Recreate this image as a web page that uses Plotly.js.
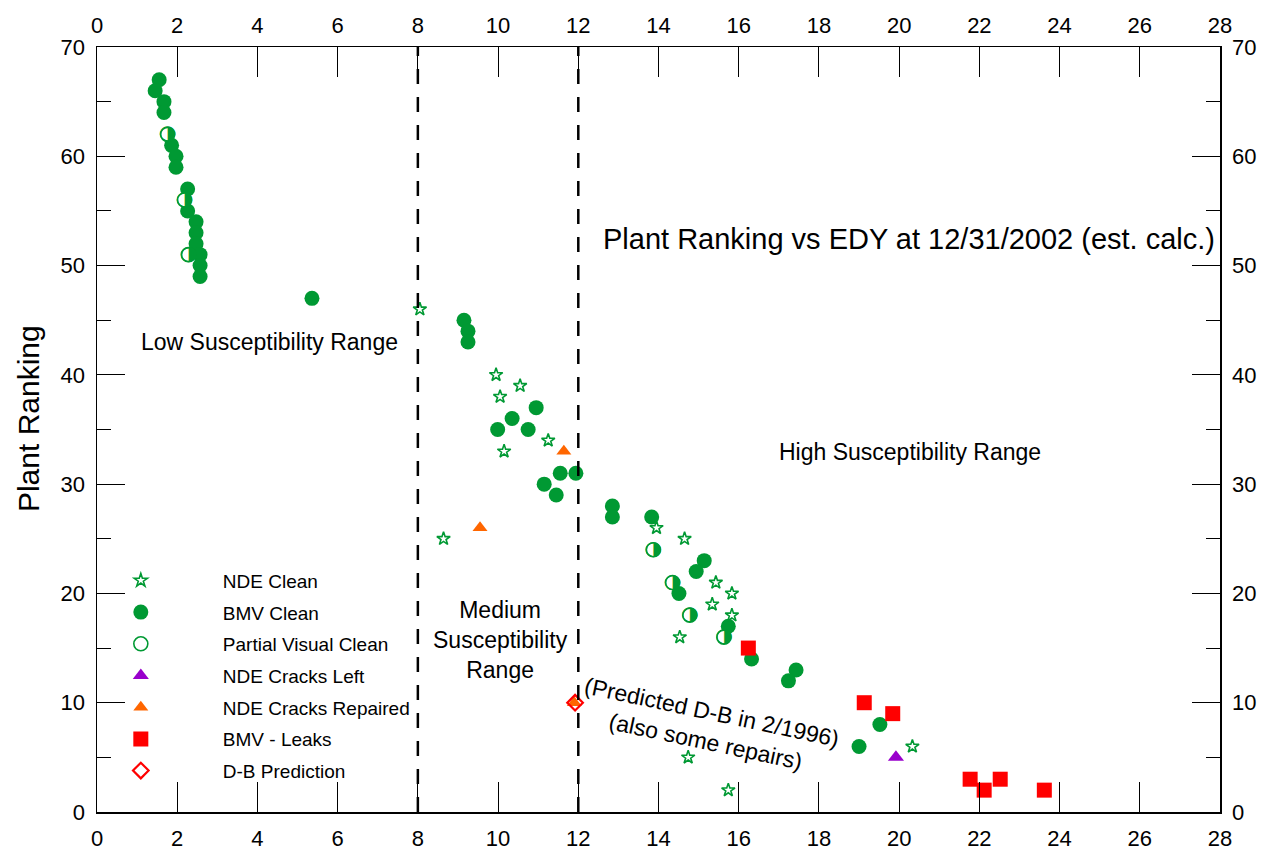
<!DOCTYPE html>
<html>
<head>
<meta charset="utf-8">
<script src="https://cdn.plot.ly/plotly-3.0.1.min.js"></script>
<style>
html,body{margin:0;padding:0;background:#fff;}
#chart{width:1270px;height:853px;}
</style>
</head>
<body>
<div id="chart"></div>
<script>
// ---- data (EDY, plant ranking) ----
const ndeCleanX = [8.05, 9.95, 10.55, 10.05, 11.25, 10.15, 8.64, 13.95, 14.65, 15.43, 15.83, 15.34, 15.83, 14.53, 20.33, 14.74, 15.74];
const ndeCleanY = [46, 40, 39, 38, 34, 33, 25, 26, 25, 21, 20, 19, 18, 16, 6, 5, 2];

const bmvCleanX = [1.55, 1.45, 1.67, 1.67, 1.86, 1.97, 1.97, 2.26, 2.26, 2.47, 2.47, 2.47, 2.57, 2.57, 2.57, 5.36, 9.15, 9.25, 9.25, 10.95, 10.35, 9.99, 10.75, 11.55, 11.94, 11.15, 11.45, 12.85, 12.85, 13.83, 15.14, 14.94, 14.51, 15.74, 16.32, 17.43, 17.24, 19.52, 19.0];
const bmvCleanY = [67, 66, 65, 64, 61, 60, 59, 57, 55, 54, 53, 52, 51, 50, 49, 47, 45, 44, 43, 37, 36, 35, 35, 31, 31, 30, 29, 28, 27, 27, 23, 22, 20, 17, 14, 13, 12, 8, 6];

const partialX = [1.76, 2.18, 2.28, 13.87, 14.35, 14.78, 15.63];
const partialY = [62, 56, 51, 24, 21, 18, 16];

const crackLeftX = [19.92];
const crackLeftY = [5];

const crackRepX = [11.64, 9.55, 11.9];
const crackRepY = [33, 26, 10];

const leakX = [16.24, 19.13, 19.84, 21.77, 22.12, 22.52, 23.62];
const leakY = [15, 10, 9, 3, 2, 3, 2];

const dbX = [11.92];
const dbY = [10];

const rangeBounds = [8, 12];
const xTickVals = [0, 2, 4, 6, 8, 10, 12, 14, 16, 18, 20, 22, 24, 26, 28];
const yTickVals = [0, 10, 20, 30, 40, 50, 60, 70];

const GREEN = '#009933';
const FONT = 'Liberation Sans, Arial, Helvetica, sans-serif';

const traces = [
  {name: 'BMV Clean', x: bmvCleanX, y: bmvCleanY, type: 'scatter', mode: 'markers',
   legendgroup: 'g2', legendrank: 2,
   marker: {symbol: 'circle', size: 15, color: GREEN, line: {width: 0}}},
  {name: 'Partial Visual Clean', x: partialX, y: partialY, type: 'scatter', mode: 'markers',
   legendgroup: 'g3', legendrank: 3,
   marker: {symbol: 'circle', size: 14, color: '#ffffff', line: {width: 1.6, color: GREEN}}},
  {name: 'Partial Visual Clean', x: partialX, y: partialY, type: 'scatter', mode: 'text',
   text: partialX.map(() => '\u25D1'), textposition: 'middle center', showlegend: false,
   legendgroup: 'g3', hoverinfo: 'skip',
   textfont: {family: 'DejaVu Sans', size: 20, color: GREEN}},
  {name: 'NDE Clean', x: ndeCleanX, y: ndeCleanY, type: 'scatter', mode: 'markers',
   legendgroup: 'g1', legendrank: 1,
   marker: {symbol: 'star', size: 10, color: '#ffffff', line: {width: 1.6, color: GREEN}}},
  {name: 'NDE Cracks Left', x: crackLeftX, y: crackLeftY, type: 'scatter', mode: 'markers',
   legendgroup: 'g4', legendrank: 4,
   marker: {symbol: 'triangle-up', size: 14, color: '#9900CC', line: {width: 0}}},
  {name: 'NDE Cracks Repaired', x: crackRepX, y: crackRepY, type: 'scatter', mode: 'markers',
   legendgroup: 'g5', legendrank: 5,
   marker: {symbol: 'triangle-up', size: 13, color: '#FF6600', line: {width: 0}}},
  {name: 'BMV - Leaks', x: leakX, y: leakY, type: 'scatter', mode: 'markers',
   legendgroup: 'g6', legendrank: 6,
   marker: {symbol: 'square', size: 15, color: '#FF0000', line: {width: 0}}},
  {name: 'D-B Prediction', x: dbX, y: dbY, type: 'scatter', mode: 'markers',
   legendgroup: 'g7', legendrank: 7,
   marker: {symbol: 'diamond-open', size: 12, color: '#FF0000', line: {width: 2.2, color: '#FF0000'}}}
];

const xAxisBase = {
  range: [0, 28], tickvals: xTickVals, ticks: 'inside', ticklen: 30, tickwidth: 1, tickcolor: '#000',
  showline: true, linecolor: '#000', linewidth: 1.5, showgrid: false, zeroline: false,
  tickfont: {family: FONT, size: 22, color: '#000'}, ticklabelstandoff: 6, fixedrange: true
};
const yAxisBase = {
  range: [0, 70], tickvals: yTickVals, ticks: 'inside', ticklen: 28, tickwidth: 1, tickcolor: '#000',
  minor: {dtick: 5, ticks: 'inside', ticklen: 14, tickwidth: 1, tickcolor: '#000', showgrid: false},
  showline: true, linecolor: '#000', linewidth: 1.5, showgrid: false, zeroline: false,
  tickfont: {family: FONT, size: 22, color: '#000'}, ticklabelstandoff: 6, fixedrange: true
};

const shapes = rangeBounds.map(b => ({
  type: 'line', xref: 'x', yref: 'paper', x0: b, x1: b, y0: 0, y1: 1,
  line: {color: '#000', width: 2.5, dash: '15px,13px'}
}));

const annFont = {family: FONT, size: 23, color: '#000'};
const annotations = [
  {text: 'Plant Ranking vs EDY at 12/31/2002 (est. calc.)', x: 20.25, y: 52.4, xref: 'x', yref: 'y',
   showarrow: false, font: {family: FONT, size: 29, color: '#000'}},
  {text: 'Low Susceptibility Range', x: 4.31, y: 43.0, xref: 'x', yref: 'y', showarrow: false, font: annFont},
  {text: 'High Susceptibility Range', x: 20.27, y: 32.9, xref: 'x', yref: 'y', showarrow: false, font: annFont},
  {text: 'Medium<br>Susceptibility<br>Range', x: 10.07, y: 15.7, xref: 'x', yref: 'y', showarrow: false, font: annFont},
  {text: '(Predicted D-B in 2/1996)<br>(also some repairs)', x: 15.26, y: 7.8, xref: 'x', yref: 'y',
   showarrow: false, textangle: 12, font: annFont},
  {text: 'Plant Ranking', xref: 'paper', yref: 'paper', x: -0.0614, y: 0.5137,
   xanchor: 'center', yanchor: 'middle', showarrow: false, textangle: -90,
   font: {family: FONT, size: 30, color: '#000'}}
];

const layout = {
  width: 1270, height: 853,
  margin: {l: 97, r: 50, t: 47, b: 41, pad: 0},
  paper_bgcolor: '#fff', plot_bgcolor: '#fff',
  font: {family: FONT, color: '#000'},
  showlegend: true,
  xaxis: Object.assign({}, xAxisBase, {side: 'bottom', anchor: 'y'}),
  xaxis2: Object.assign({}, xAxisBase, {side: 'top', overlaying: 'x', anchor: 'y', ticklabelstandoff: 4}),
  yaxis: Object.assign({}, yAxisBase, {side: 'left', anchor: 'x'}),
  yaxis2: Object.assign({}, yAxisBase, {side: 'right', overlaying: 'y', anchor: 'x'}),
  legend: {
    x: -0.034, xanchor: 'left', y: 0.3274, yanchor: 'top',
    bgcolor: 'rgba(0,0,0,0)', borderwidth: 0,
    itemwidth: 154, tracegroupgap: 4, traceorder: 'grouped',
    font: {family: FONT, size: 19, color: '#000'}
  },
  shapes: shapes,
  annotations: annotations
};

// secondary (top / right) axes show the same scale; attach an invisible copy of real data
traces.push({x: bmvCleanX, y: bmvCleanY, xaxis: 'x2', yaxis: 'y2', type: 'scatter', mode: 'markers',
  marker: {opacity: 0}, showlegend: false, hoverinfo: 'skip'});

Plotly.newPlot('chart', traces, layout, {displayModeBar: false, staticPlot: true});
</script>
</body>
</html>
